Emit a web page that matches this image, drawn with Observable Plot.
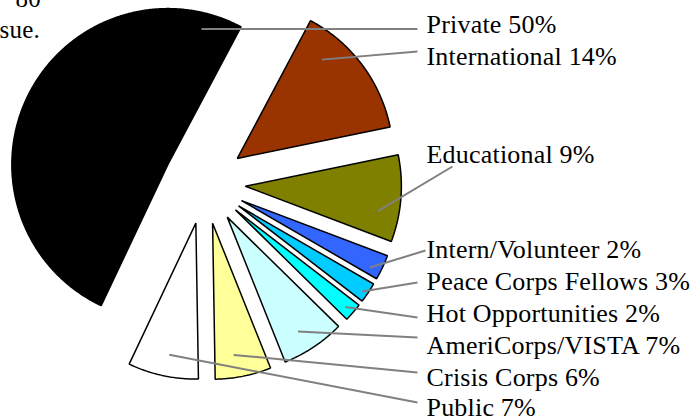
<!DOCTYPE html>
<html><head><meta charset="utf-8">
<script src="https://cdn.jsdelivr.net/npm/d3@7"></script>
<script src="https://cdn.jsdelivr.net/npm/@observablehq/plot@0.6"></script>
<style>body{margin:0;background:#fff}#chart svg{display:block}#chart text{letter-spacing:0.2px}</style>
</head><body><div id="chart"></div>
<script>
// ---- data ----
const categories = ["International","Educational","Intern/Volunteer","Peace Corps Fellows","Hot Opportunities","AmeriCorps/VISTA","Crisis Corps","Public","Private"];
const shares = [14.0, 9.0, 2.6, 2.1, 1.9, 6.6, 5.8, 7.3, 50.8];          // slice sizes, % (measured)
const labelPercents = [14, 9, 2, 3, 2, 7, 6, 7, 50];                        // printed labels
const colors = ["#993300","#808000","#3366FF","#00CCFF","#00FFFF","#CCFFFF","#FFFF99","#FFFFFF","#000000"];
const marginNotes = ["80", "sue."];

// ---- layout ----
const W = 691, H = 418, CX = 204, CY = 182.5, R = 156, EXPLODE = 41, START = -62;
const labelX = 426;
const labelY = [56, 154, 249, 281, 313, 345, 377, 407, 24];
const leaderEnd = [[417,51],[452,166],[425,250],[417,282],[417,317],[417,337],[417,372],[417,402],[417,28.5]];
const leaderStart = [[0.25,0.834],[0.69,0.864],[0.73,0.928],[0.61,0.964],[0.57,0.94],[0.58,0.862],[0.61,0.855],[0.47,0.861],[0.923,0.895]];
const notePos = [[15,-2],[-1,29]];
const FONT = "Liberation Serif, Times New Roman, serif";

const rad = d => d * Math.PI / 180;
const total = d3.sum(shares);
let a = START;
const polys = [], leaders = [], labels = [];
categories.forEach((name, i) => {
  const span = shares[i] / total * 360;
  const a0 = a, a1 = a + span; a = a1;
  const mid = (a0 + a1) / 2;
  const ax = CX + EXPLODE * Math.cos(rad(mid)), ay = CY + EXPLODE * Math.sin(rad(mid));
  polys.push({name, color: colors[i], x: ax, y: ay});
  const n = Math.max(2, Math.ceil(span / 0.5));
  for (let k = 0; k <= n; k++) {
    const t = a0 + span * k / n;
    polys.push({name, color: colors[i], x: ax + R * Math.cos(rad(t)), y: ay + R * Math.sin(rad(t))});
  }
  const [ft, fr] = leaderStart[i];
  const la = a0 + span * ft;
  leaders.push({x1: ax + fr * R * Math.cos(rad(la)), y1: ay + fr * R * Math.sin(rad(la)), x2: leaderEnd[i][0], y2: leaderEnd[i][1]});
  labels.push({text: `${name} ${labelPercents[i]}%`, y: labelY[i]});
});
const notes = marginNotes.map((t, i) => ({text: t, x: notePos[i][0], y: notePos[i][1]}));

const chart = Plot.plot({
  width: W, height: H,
  margin: 0,
  x: {domain: [0, W], range: [0, W], axis: null},
  y: {domain: [0, H], range: [0, H], axis: null},
  color: {type: "identity"},
  style: {background: "#fff", overflow: "visible"},
  marks: [
    Plot.line(polys, {x: "x", y: "y", z: "name", fill: "color", stroke: "#000", strokeWidth: 1.5, curve: "linear-closed", strokeLinejoin: "miter"}),
    Plot.link(leaders, {x1: "x1", y1: "y1", x2: "x2", y2: "y2", stroke: "#808080", strokeWidth: 2}),
    Plot.text(labels, {x: labelX, y: "y", text: "text", textAnchor: "start", lineAnchor: "middle", fontSize: 26, fontFamily: FONT, fill: "#000"}),
    Plot.text(notes, {x: "x", y: "y", text: "text", textAnchor: "start", lineAnchor: "middle", fontSize: 25, fontFamily: FONT, fill: "#000"})
  ]
});
document.getElementById("chart").appendChild(chart);
</script>
</body></html>
